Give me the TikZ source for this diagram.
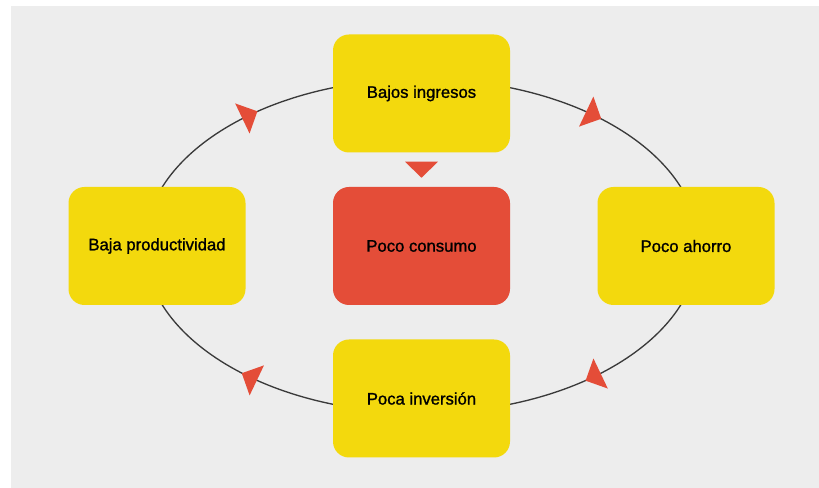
\documentclass[tikz,border=0pt]{standalone}
\usepackage{fontspec}
\setmainfont{Liberation Sans}
\newfontfamily\labelfont[FakeBold=1.2]{Liberation Sans}
\usetikzlibrary{decorations.markings,calc}
\definecolor{bggray}{HTML}{EDEDED}
\definecolor{boxyellow}{HTML}{F3D90D}
\definecolor{boxred}{HTML}{E44D38}
\definecolor{linegray}{HTML}{3A3A3A}
\begin{document}
\begin{tikzpicture}[x=0.75pt,y=0.75pt,
  box/.style={rectangle, rounded corners=12pt, minimum width=132.75pt, minimum height=88.5pt, inner sep=0pt, font=\labelfont\fontsize{12.5}{15}\selectfont, text=black},
  yellowbox/.style={box, fill=boxyellow},
  redbox/.style={box, fill=boxred},
  cycleline/.style={draw=linegray, line width=1pt, postaction={decorate},
    decoration={markings, mark=at position 0.5 with {\fill[boxred] (6.5pt,0) -- (-6pt,12.5pt) -- (-6pt,-12.5pt) -- cycle;}}}
]
\useasboundingbox (0,0) rectangle (819,488);
\fill[white] (0,0) rectangle (819,488);
\fill[bggray] (11,0) rectangle (819,482);
% ellipse extremes
\coordinate (etop) at (421.5,409);
\coordinate (eright) at (698.5,242);
\coordinate (ebottom) at (421.5,75);
\coordinate (eleft) at (144.5,242);
% cycle arcs (clockwise)
\path[cycleline] (etop) arc[start angle=90, end angle=0, x radius=207.75pt, y radius=125.25pt];
\path[cycleline] (eright) arc[start angle=0, end angle=-90, x radius=207.75pt, y radius=125.25pt];
\path[cycleline] (ebottom) arc[start angle=270, end angle=180, x radius=207.75pt, y radius=125.25pt];
\path[cycleline] (eleft) arc[start angle=180, end angle=90, x radius=207.75pt, y radius=125.25pt];
% boxes
\node[yellowbox] (ingresos) at (421.5,394.5) {Bajos ingresos};
\node[redbox] (consumo) at (421.5,242) {Poco consumo};
\node[yellowbox] (ahorro) at (686,242) {Poco ahorro};
\node[yellowbox] (inversion) at (421.5,89.5) {Poca inversión};
\node[yellowbox] (productividad) at (157,242) {Baja productividad};
% arrow from ingresos to consumo
\coordinate (m) at ($(ingresos.south)!0.5!(consumo.north)$);
\fill[boxred] ([shift={(-16.5,8)}]m) -- ([shift={(16.5,8)}]m) -- ([shift={(0,-8)}]m) -- cycle;
\end{tikzpicture}
\end{document}
